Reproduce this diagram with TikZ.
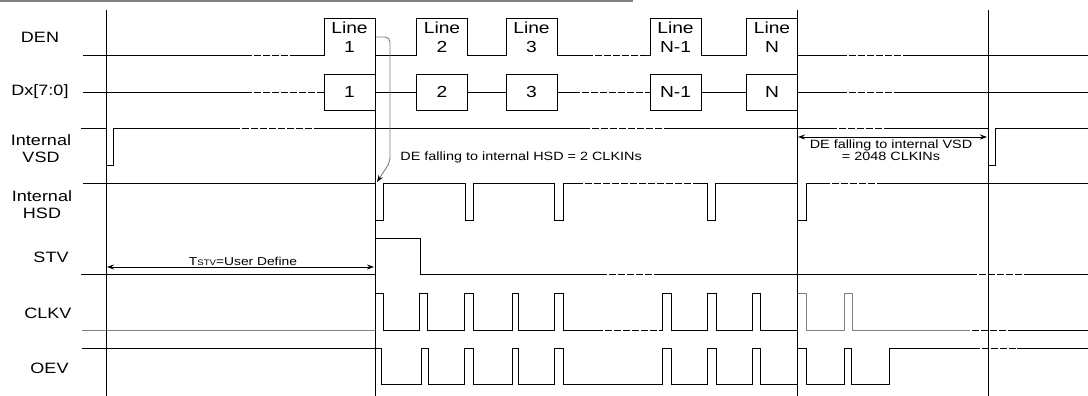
\documentclass[tikz,border=0pt]{standalone}
\usepackage{fontspec}
\setmainfont{Liberation Sans}
\newfontfamily\sigfont[FakeStretch=1.2]{Liberation Sans}
\usetikzlibrary{arrows.meta}

\begin{document}
\begin{tikzpicture}[x=1pt, y=-1pt, line width=0.9pt, font=\sigfont,
  >={Stealth[length=7pt, width=5pt]},
  signame/.style={align=center, font=\sigfont\fontsize{15}{17}\selectfont},
  linetext/.style={align=center, inner sep=0pt, font=\sigfont\fontsize{16}{19}\selectfont},
  databox/.style={draw, minimum width=\pw pt, minimum height=36pt, inner sep=0pt, font=\sigfont\fontsize{16}{19}\selectfont},
  note/.style={align=center, inner sep=0pt, font=\sigfont\fontsize{12}{12.5}\selectfont},
  breakmark/.style={white, line width=1.5pt, dash pattern=on 2pt off 7pt}
]

% Sizes
\def\pw{51}
\def\denhi{18}  \def\denlo{55}
\def\vsdhi{128} \def\vsdlo{165}
\def\hsdhi{183} \def\hsdlo{220}
\def\stvhi{238} \def\stvlo{274}
\def\clkhi{293} \def\clklo{330}
\def\oevhi{348} \def\oevlo{384}

\useasboundingbox (0,0) rectangle (1088,396);

% Frame edge at the top
\draw[gray, line width=1.5pt] (0,1) -- (632,1) -- (632,0);

% Signal names
\foreach \name/\x/\y/\text in {
  lden/40/37/DEN,
  ldx/40/92/{Dx[7:0]},
  lvsd/41/149/{Internal\\VSD},
  lhsd/42/205/{Internal\\HSD},
  lstv/51/257/STV,
  lclkv/48/313/CLKV,
  loev/52/368/OEV
} {
  \node[signame] (\name) at (\x,\y) {\text};
}

% DEN
\draw (83,\denlo) foreach \c in {349.5,442,531.5,675.5,772} {
    -- (\c-\pw/2,\denlo) -- (\c-\pw/2,\denhi) -- (\c+\pw/2,\denhi) -- (\c+\pw/2,\denlo)
  } -- (1088,\denlo);

% Lines and data
\foreach \c/\k/\t in {349.5/1/1, 442/2/2, 531.5/3/3, 675.5/n1/N-1, 772/n/N} {
  \node[linetext] (den\k) at (\c,37) {Line\\\t};
  \node[databox] (dx\k) at (\c,92) {\t};
}
\draw (83,92) -- (dx1.west);
\foreach \a/\b in {1/2, 2/3, 3/n1, n1/n} {
  \draw (dx\a.east) -- (dx\b.west);
}
\draw (dxn.east) -- (1088,92);

% Internal VSD
\draw (81,\vsdhi) foreach \a/\b in {106/113, 988/995} {
    -- (\a,\vsdhi) -- (\a,\vsdlo) -- (\b,\vsdlo) -- (\b,\vsdhi)
  } -- (1088,\vsdhi);

% Internal HSD
\draw (83,\hsdhi) foreach \a/\b in {375/383, 465/473, 554/563, 707/715, 797/806} {
    -- (\a,\hsdhi) -- (\a,\hsdlo) -- (\b,\hsdlo) -- (\b,\hsdhi)
  } -- (1088,\hsdhi);

% STV
\draw (81,\stvlo) -- (375,\stvlo) -- (375,\stvhi) -- (420,\stvhi) -- (420,\stvlo) -- (1088,\stvlo);

% CLKV
\draw[gray] (82,\clklo) -- (375,\clklo);
\draw (375,\clklo) foreach \a/\b in {375/383, 419/427, 464/473, 512/518, 554/563, 662/671, 707/716, 752/760} {
    -- (\a,\clklo) -- (\a,\clkhi) -- (\b,\clkhi) -- (\b,\clklo)
  } -- (797,\clklo);
\draw[gray] (797,\clklo) foreach \a/\b in {797/806, 844/852} {
    -- (\a,\clklo) -- (\a,\clkhi) -- (\b,\clkhi) -- (\b,\clklo)
  } -- (970,\clklo);
\draw (970,\clklo) -- (1088,\clklo);

% OEV
\draw (82,\oevhi) -- (381,\oevhi) -- (381,\oevlo)
  foreach \a/\b in {421/428, 464/473, 512/518, 554/563, 662/671, 707/716, 752/760, 797/806, 844/851} {
    -- (\a,\oevlo) -- (\a,\oevhi) -- (\b,\oevhi) -- (\b,\oevlo)
  } -- (889,\oevlo) -- (889,\oevhi) -- (1088,\oevhi);

% Time breaks
\foreach \x/\y/\l in {
  252/55/43, 593/55/54, 847/55/60,
  252/92/68, 580/92/67, 847/92/50,
  240/128/78, 590/128/77, 837/128/53,
  583/183/110, 830/183/53,
  607/274/50, 977/274/53,
  603/330/57, 970/330/43,
  607/348/53, 980/348/37
} {
  \draw[breakmark] (\x,\y) -- ++(\l,0);
}

% Time markers
\foreach \x/\ytop in {106/10, 375/18, 797/10, 988/10} {
  \draw (\x,\ytop) -- (\x,396);
}

% DE to HSD delay
\coordinate (den1fall) at (376,37);
\coordinate (hsd1fall) at (377,182);
\draw[gray, rounded corners=5pt, -{Stealth[black, length=7pt, width=5pt]}]
  (den1fall) -- (390,37) -- (390,162) -- (hsd1fall);
\node[note, anchor=west] (hsdnote) at (400,157) {DE falling to internal HSD = 2 CLKINs};

% DE to VSD delay
\coordinate (lastfall) at (798,137);
\coordinate (vsdfall) at (987,137);
\draw[<->] (lastfall) -- (vsdfall);
\node[note] (vsdnote) at (891,150) {DE falling to internal VSD\\= 2048 CLKINs};

% STV setup time
\coordinate (tstvstart) at (107,267);
\coordinate (tstvend) at (374,267);
\draw[<->] (tstvstart) -- (tstvend);
\node[note, font=\sigfont\fontsize{11.5}{12}\selectfont] (tstvnote) at (243,261)
  {T{\fontsize{8}{8}\selectfont STV}=User Define};

\end{tikzpicture}
\end{document}
